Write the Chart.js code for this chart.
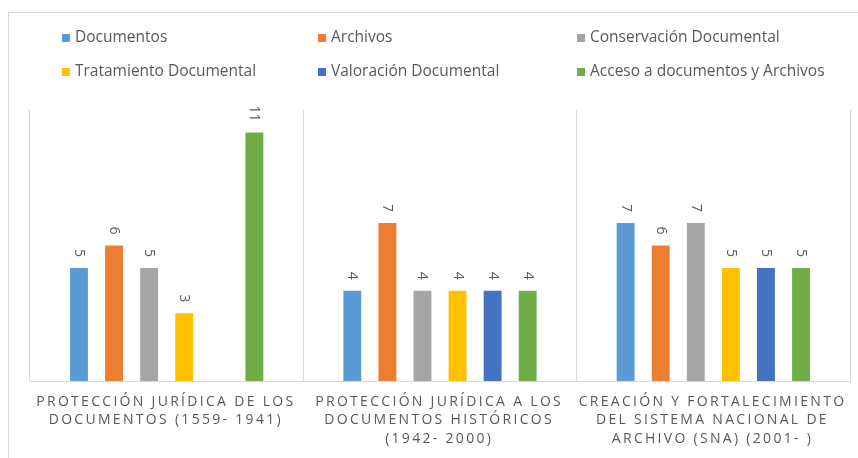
<!DOCTYPE html>
<html>
<head>
<meta charset="utf-8">
<script src="https://cdn.jsdelivr.net/npm/chart.js@4.4.1/dist/chart.umd.min.js"></script>
<style>
  html, body { margin: 0; padding: 0; background: #fff; }
  #wrap { width: 858px; height: 458px; }
</style>
</head>
<body>
<div id="wrap"><canvas id="chart" width="858" height="458"></canvas></div>
<script>
// Categorías (etiquetas del eje X, una línea por elemento)
const categories = [
  ['PROTECCIÓN JURÍDICA DE LOS', 'DOCUMENTOS (1559- 1941)'],
  ['PROTECCIÓN JURÍDICA A LOS', 'DOCUMENTOS HISTÓRICOS', '(1942- 2000)'],
  ['CREACIÓN Y FORTALECIMIENTO', 'DEL SISTEMA NACIONAL DE', 'ARCHIVO (SNA) (2001- )']
];

// Series
const seriesNames = [
  'Documentos',
  'Archivos',
  'Conservación Documental',
  'Tratamiento Documental',
  'Valoración Documental',
  'Acceso a documentos y Archivos'
];
const seriesColors = ['#5b9bd5', '#ed7d31', '#a5a5a5', '#ffc000', '#4472c4', '#70ad47'];

const documentos   = [5, 4, 7];
const archivos     = [6, 7, 6];
const conservacion = [5, 4, 7];
const tratamiento  = [3, 4, 5];
const valoracion   = [null, 4, 5];
const acceso       = [11, 4, 5];

const seriesValues = [documentos, archivos, conservacion, tratamiento, valoracion, acceso];

const textColor = '#595959';
const lineColor = '#d9d9d9';
const fontFamily = '"Open Sans", "DejaVu Sans", sans-serif';

// Marco exterior del gráfico
const framePlugin = {
  id: 'frame',
  beforeDraw(chart) {
    const ctx = chart.ctx;
    ctx.save();
    ctx.fillStyle = '#fff';
    ctx.fillRect(0, 0, chart.width, chart.height);
    ctx.strokeStyle = lineColor;
    ctx.lineWidth = 1;
    ctx.strokeRect(8.5, 12.5, chart.width + 20, chart.height + 20);
    ctx.restore();
  }
};

// Leyenda en 3 columnas
const legendPlugin = {
  id: 'gridLegend',
  afterDraw(chart) {
    const ctx = chart.ctx;
    const colX = [62, 318, 577];
    const rowY = [38, 72];
    ctx.save();
    ctx.font = '15.5px ' + fontFamily;
    ctx.textBaseline = 'middle';
    ctx.textAlign = 'left';
    chart.data.datasets.forEach((ds, i) => {
      const x = colX[i % 3];
      const y = rowY[Math.floor(i / 3)];
      ctx.fillStyle = ds.backgroundColor;
      ctx.fillRect(x, y - 4, 8, 8);
      ctx.fillStyle = textColor;
      ctx.fillText(ds.label, x + 13, y);
    });
    ctx.restore();
  }
};

// Etiquetas de datos giradas
const valueLabels = {
  id: 'valueLabels',
  afterDatasetsDraw(chart) {
    const ctx = chart.ctx;
    ctx.save();
    ctx.font = '14px ' + fontFamily;
    ctx.fillStyle = textColor;
    ctx.textAlign = 'right';
    ctx.textBaseline = 'middle';
    chart.data.datasets.forEach((ds, di) => {
      const meta = chart.getDatasetMeta(di);
      meta.data.forEach((bar, i) => {
        const v = ds.data[i];
        if (v === null || v === undefined) return;
        ctx.save();
        ctx.translate(bar.x, bar.y - 11);
        ctx.rotate(Math.PI / 2);
        ctx.fillText(String(v), 0, 0);
        ctx.restore();
      });
    });
    ctx.restore();
  }
};

// Etiquetas del eje X con espaciado entre letras
function drawSpaced(ctx, text, cx, y, spacing) {
  const chars = Array.from(text);
  const widths = chars.map(c => ctx.measureText(c).width);
  const total = widths.reduce((a, b) => a + b, 0) + spacing * (chars.length - 1);
  let x = cx - total / 2;
  chars.forEach((c, i) => {
    ctx.fillText(c, x, y);
    x += widths[i] + spacing;
  });
}

const xLabels = {
  id: 'xLabels',
  afterDraw(chart) {
    const ctx = chart.ctx;
    const xScale = chart.scales.x;
    ctx.save();
    ctx.font = '14px ' + fontFamily;
    ctx.fillStyle = textColor;
    ctx.textAlign = 'left';
    ctx.textBaseline = 'middle';
    chart.data.labels.forEach((lines, i) => {
      const cx = xScale.getPixelForValue(i) - 2;
      lines.forEach((line, j) => {
        drawSpaced(ctx, line, cx, chart.chartArea.bottom + 21 + j * 18.5, 2.3);
      });
    });
    ctx.restore();
  }
};

new Chart(document.getElementById('chart').getContext('2d'), {
  type: 'bar',
  data: {
    labels: categories,
    datasets: seriesNames.map((name, i) => ({
      label: name,
      data: seriesValues[i],
      backgroundColor: seriesColors[i],
      borderWidth: 0,
      categoryPercentage: 0.77,
      barPercentage: 0.51
    }))
  },
  options: {
    responsive: false,
    animation: false,
    devicePixelRatio: 1,
    layout: { padding: { left: 30, right: 8, top: 110, bottom: 77 } },
    plugins: {
      legend: { display: false },
      tooltip: { enabled: false }
    },
    scales: {
      x: {
        offset: true,
        grid: { display: true, offset: true, color: lineColor, drawTicks: false },
        border: { display: true, color: lineColor },
        ticks: { display: false }
      },
      y: {
        display: false,
        min: 0,
        max: 12
      }
    }
  },
  plugins: [framePlugin, valueLabels, xLabels, legendPlugin]
});
</script>
</body>
</html>
